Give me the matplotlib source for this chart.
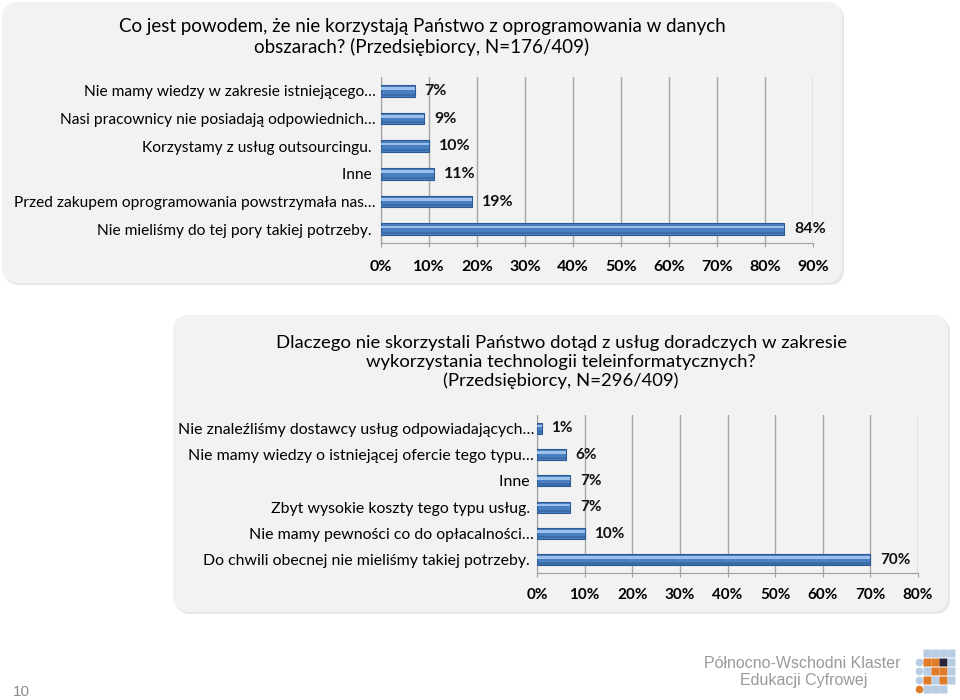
import matplotlib
matplotlib.use("Agg")
import matplotlib.pyplot as plt
from matplotlib.patches import FancyBboxPatch

plt.rcParams['font.family'] = ['Lato', 'DejaVu Sans']

# top chart data
top_title = ("Co jest powodem, że nie korzystają Państwo z oprogramowania w danych\n"
             "obszarach? (Przedsiębiorcy, N=176/409)")
top_labels = ["Nie mamy wiedzy w zakresie istniejącego…",
              "Nasi pracownicy nie posiadają odpowiednich…",
              "Korzystamy z usług outsourcingu. ",
              "Inne ",
              "Przed zakupem oprogramowania powstrzymała nas…",
              "Nie mieliśmy do tej pory takiej potrzeby. "]
top_values = [7, 9, 10, 11, 19, 84]
top_ticks = [0, 10, 20, 30, 40, 50, 60, 70, 80, 90]

# bottom chart data
bot_title = ("Dlaczego nie skorzystali Państwo dotąd z usług doradczych w zakresie\n"
             "wykorzystania technologii teleinformatycznych?\n"
             "(Przedsiębiorcy, N=296/409)")
bot_labels = ["Nie znaleźliśmy dostawcy usług odpowiadających…",
              "Nie mamy wiedzy o istniejącej ofercie tego typu…",
              "Inne ",
              "Zbyt wysokie koszty tego typu usług. ",
              "Nie mamy pewności co do opłacalności…",
              "Do chwili obecnej nie mieliśmy takiej potrzeby. "]
bot_values = [1, 6, 7, 7, 10, 70]
bot_ticks = [0, 10, 20, 30, 40, 50, 60, 70, 80]

# logo squares (one string per row, b = blue, o = orange, d = dark)
logo_grid = ["-bbbb",
             "boodb",
             "bboob",
             "bobob",
             "obbb-"]

fig = plt.figure(figsize=(9.6, 7), dpi=100)
bg = fig.add_axes([0, 0, 1, 1])
bg.set_xlim(0, 960)
bg.set_ylim(700, 0)
bg.axis('off')

for (x, y, w, h) in [(2, 2, 840, 281), (173, 315, 775, 297)]:
    bg.add_patch(FancyBboxPatch((x + 2, y + 2), w, h, boxstyle="round,pad=0,rounding_size=16",
                                fc='#e6e6e6', ec='none', zorder=0))
    bg.add_patch(FancyBboxPatch((x, y), w, h, boxstyle="round,pad=0,rounding_size=16",
                                fc='#f2f2f2', ec='none', zorder=1))

bg.text(422, 37, top_title, ha='center', va='center', fontsize=13.5,
        color='black', linespacing=1.25, zorder=2)
bg.text(561, 362, bot_title, ha='center', va='center', fontsize=13.3,
        color='black', linespacing=1.22, zorder=2)

bg.text(21, 692, "10", ha='center', va='center', fontsize=11, color='#8c8c8c',
        family='Liberation Sans')
bg.text(802, 663, "Północno-Wschodni Klaster", ha='center', va='center', fontsize=11.5,
        color='#9a9a9a', family='Liberation Sans')
bg.text(804, 681, "Edukacji Cyfrowej", ha='center', va='center', fontsize=11.5,
        color='#9a9a9a', family='Liberation Sans')
colmap = {'b': '#b8cde4', 'o': '#e07b2a', 'd': '#2b2238'}
for r, row in enumerate(logo_grid):
    for c, ch in enumerate(row):
        if ch == '-':
            continue
        marker = 'o' if c == 0 else 's'
        bg.plot(919 + 8 * c, 653 + 9 * r, marker=marker, ms=5.5, color=colmap[ch], mec='none')


def draw_chart(rect, labels, values, ticks, fsize, tsize, pad, tpad):
    ax = fig.add_axes(rect)
    ax.set_facecolor('none')
    y = list(range(len(values)))
    ax.barh(y, values, height=0.42, color='#4a80c2', edgecolor='#2b5a92', lw=0.8, zorder=3)
    ax.barh([v - 0.08 for v in y], values, height=0.1, color='#9cc0ea', lw=0, zorder=4)
    ax.barh([v + 0.14 for v in y], values, height=0.08, color='#3a6ca8', lw=0, zorder=4)
    for yi, v in zip(y, values):
        ax.annotate(f"{v}%", (v, yi), xytext=(7, 0), textcoords='offset points',
                    ha='left', va='center', fontsize=tsize, fontweight='bold',
                    color='#111111')
    ax.set_xlim(ticks[0], ticks[-1])
    ax.set_ylim(len(values) - 0.5, -0.5)
    ax.set_xticks(ticks)
    ax.set_xticklabels([f"{t}%" for t in ticks], fontsize=tsize, fontweight='bold')
    ax.set_yticks(y)
    ax.set_yticklabels(labels, fontsize=fsize, color='black')
    ax.tick_params(axis='x', length=3, color='#a0a0a0', pad=tpad)
    ax.tick_params(axis='y', length=0, pad=pad)
    ax.grid(axis='x', color='#a6a6a6', lw=1, zorder=1)
    for s in ['top', 'right']:
        ax.spines[s].set_visible(False)
    for s in ['left', 'bottom']:
        ax.spines[s].set_color('#a0a0a0')
    return ax


draw_chart([381 / 960, 1 - 243 / 700, 432 / 960, 166 / 700],
           top_labels, top_values, top_ticks, 11.2, 11.5, 4, 9)
draw_chart([537 / 960, 1 - 573 / 700, 381 / 960, 158 / 700],
           bot_labels, bot_values, bot_ticks, 11.4, 11, 2, 8)

fig.savefig("out.png", dpi=100)
